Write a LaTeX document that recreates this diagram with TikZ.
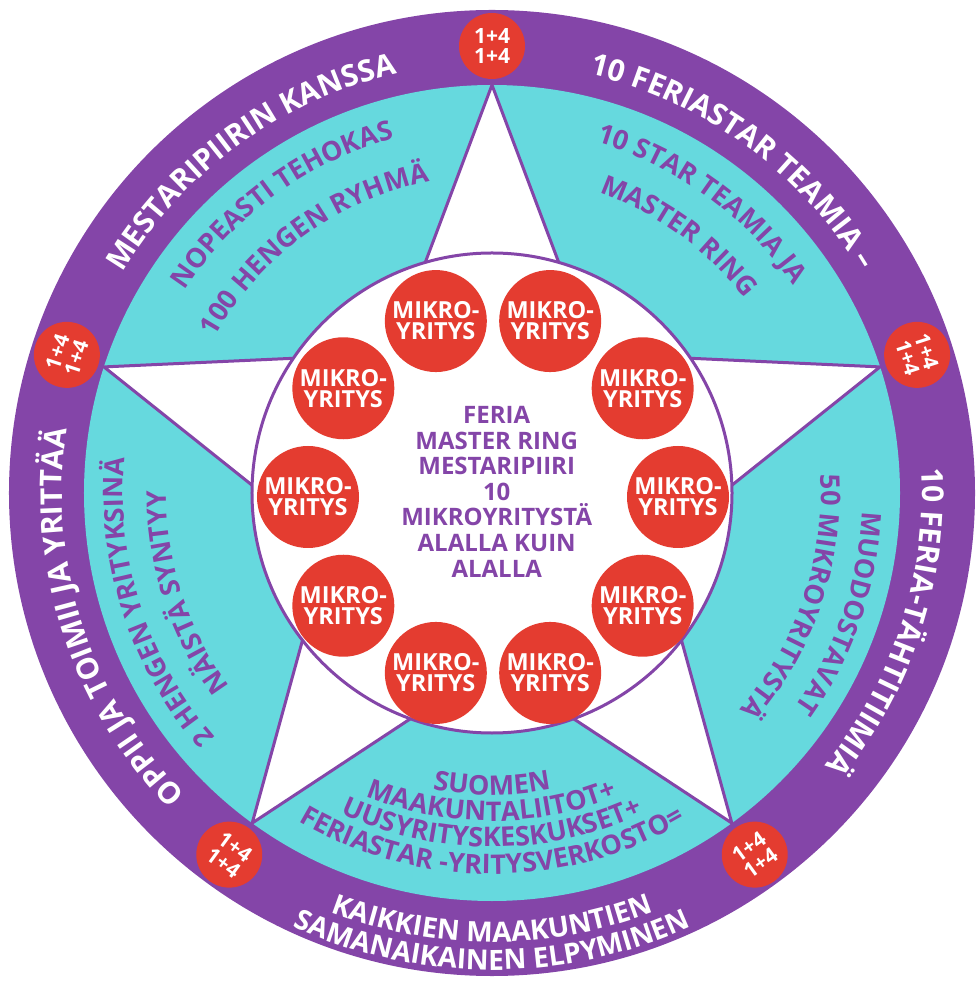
\documentclass[tikz,border=0pt]{standalone}
\usepackage{fontspec}
\setmainfont{Open Sans}
\usepackage{tikz}
\usetikzlibrary{decorations.text}

\definecolor{feriapurple}{HTML}{8445A8}
\definecolor{feriacyan}{HTML}{66D9DE}
\definecolor{feriared}{HTML}{E43C30}

\begin{document}
\begin{tikzpicture}[
  mikro/.style={circle,fill=feriared,minimum size=102pt,inner sep=0pt,
    align=center,text=white,font=\bfseries\fontsize{23.5}{21}\selectfont},
  badge/.style={circle,fill=feriared,minimum size=66pt,inner sep=0pt,
    align=center,text=white,font=\bfseries\fontsize{21}{20}\selectfont},
  ringtext/.style={decorate,decoration={text along path,text align=center,
    text={|\bfseries\fontsize{30}{30}\selectfont\color{white}|#1}}},
  bandtext/.style={decorate,decoration={text along path,text align=center,
    text={|\bfseries\fontsize{28}{28}\selectfont\color{white}|#1}}},
  startext/.style={decorate,decoration={text along path,text align=center,
    text={|\bfseries\fontsize{27}{27}\selectfont\color{feriapurple}|#1}}},
]
\useasboundingbox (-492pt,-488pt) rectangle (487pt,493pt);

% rings
\fill[feriapurple] (0,0) circle[radius=483pt];
\fill[feriacyan] (0,0) circle[radius=408pt];

% star and inner circle
\draw[feriapurple,line width=3pt,fill=white]
  (90:408pt) -- (126:172pt) -- (162:408pt) -- (198:172pt) -- (234:408pt)
  -- (270:172pt) -- (306:408pt) -- (342:172pt) -- (18:408pt) -- (54:172pt) -- cycle;
\draw[feriapurple,line width=3pt,fill=white] (0,0) circle[radius=240pt];

% mikroyritykset
\begin{scope}[shift={(1pt,-4pt)}]
\foreach \a [count=\i] in {0,36,...,324}
  \node[mikro] (m_\i) at (\a:185pt) {MIKRO-\\YRITYS};
\end{scope}
\node[text=feriapurple,align=center,font=\bfseries\fontsize{24}{25.6}\selectfont]
  (core) at (4.7pt,1.3pt)
  {FERIA\\MASTER RING\\MESTARIPIIRI\\10\\MIKROYRITYSTÄ\\ALALLA KUIN\\ALALLA};

% texts in the ring
\path[ringtext={MESTARIPIIRIN KANSSA}] (161:430pt) arc[start angle=161,end angle=91,radius=430pt];
\path[ringtext={10 FERIASTAR TEAMIA –}] (89:430pt) arc[start angle=89,end angle=19,radius=430pt];
\path[ringtext={10 FERIA-TÄHTITIIMIÄ}] (17:430pt) arc[start angle=17,end angle=-53,radius=430pt];
\path[ringtext={OPPII JA TOIMII JA YRITTÄÄ}] (233:430pt) arc[start angle=233,end angle=163,radius=430pt];
\path[bandtext={KAIKKIEN MAAKUNTIEN}] (225:449pt) arc[start angle=225,end angle=315,radius=449pt];
\path[bandtext={SAMANAIKAINEN ELPYMINEN}] (225:477pt) arc[start angle=225,end angle=315,radius=477pt];

% texts on the star
\path[startext={NOPEASTI TEHOKAS}] (166:368pt) arc[start angle=166,end angle=86,radius=368pt];
\path[startext={100 HENGEN RYHMÄ}] (166:318pt) arc[start angle=166,end angle=86,radius=318pt];
\path[startext={10 STAR TEAMIA JA}] (94:366pt) arc[start angle=94,end angle=14,radius=366pt];
\path[startext={MASTER RING}] (94:319pt) arc[start angle=94,end angle=14,radius=319pt];
\path[startext={MUODOSTAVAT}] (21:371pt) arc[start angle=21,end angle=-59,radius=371pt];
\path[startext={50 MIKROYRITYSTÄ}] (21:329pt) arc[start angle=21,end angle=-59,radius=329pt];
\path[startext={2 HENGEN YRITYKSINÄ}] (238:369pt) arc[start angle=238,end angle=158,radius=369pt];
\path[startext={NÄISTÄ SYNTYY}] (238:326pt) arc[start angle=238,end angle=158,radius=326pt];
\path[startext={SUOMEN}] (225:302pt) arc[start angle=225,end angle=315,radius=302pt];
\path[startext={MAAKUNTALIITOT+}] (225:328pt) arc[start angle=225,end angle=315,radius=328pt];
\path[startext={UUSYRITYSKESKUKSET+}] (225:354pt) arc[start angle=225,end angle=315,radius=354pt];
\path[startext={FERIASTAR -YRITYSVERKOSTO=}] (225:381pt) arc[start angle=225,end angle=315,radius=381pt];

% badges
\foreach \a/\r [count=\i] in {90/0,162/72,18/-72,234/-36,306/36}
  \node[badge,rotate=\r] (b_\i) at (\a:447pt) {1+4\\1+4};
\end{tikzpicture}
\end{document}
